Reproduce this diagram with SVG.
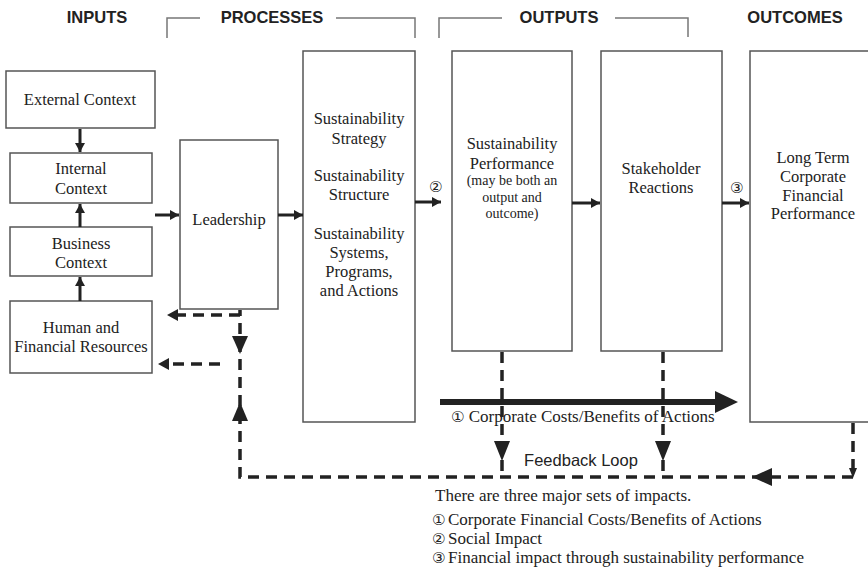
<svg xmlns="http://www.w3.org/2000/svg" width="868" height="568" viewBox="0 0 868 568">
<defs>
<style>
.hd{font-family:"Liberation Sans",Arial,sans-serif;font-weight:bold;font-size:16.5px;fill:#222;text-anchor:middle}
.bx{fill:#fff;stroke:#555;stroke-width:1.5}
.t{font-family:"Liberation Serif","Times New Roman",serif;font-size:16.5px;fill:#222;text-anchor:middle}
.ts{font-family:"Liberation Serif","Times New Roman",serif;font-size:14px;fill:#222;text-anchor:middle}
.lg{font-family:"Liberation Serif","Times New Roman",serif;font-size:17px;fill:#222}
.num{font-family:"DejaVu Sans",sans-serif;font-size:15px;fill:#222}
.br{fill:none;stroke:#777;stroke-width:1.5}
.sol{fill:none;stroke:#222;stroke-width:3}
.dsh{fill:none;stroke:#222;stroke-width:3.5;stroke-dasharray:11 7}
.head{fill:#222}
</style>
<marker id="ah" markerUnits="userSpaceOnUse" markerWidth="12" markerHeight="12" refX="9" refY="5" orient="auto">
<path d="M0,0 L9,5 L0,10 Z" fill="#222"/>
</marker>
</defs>

<g id="headers">
<text class="hd" x="97" y="23">INPUTS</text>
<text class="hd" x="272" y="23">PROCESSES</text>
<text class="hd" x="559" y="23">OUTPUTS</text>
<text class="hd" x="795" y="23">OUTCOMES</text>
<path class="br" d="M167,38 V18 H200 M336,18 H415 V38"/>
<path class="br" d="M439,38 V18 H502 M615,18 H688 V37"/>
</g>

<g id="external-context">
<rect class="bx" x="6" y="71" width="149" height="57"/>
<text class="t" x="80" y="105">External Context</text>
</g>
<g id="internal-context">
<rect class="bx" x="10" y="153" width="142" height="50"/>
<text class="t" x="81" y="174">Internal</text>
<text class="t" x="81" y="194">Context</text>
</g>
<g id="business-context">
<rect class="bx" x="10" y="227" width="142" height="49"/>
<text class="t" x="81" y="249">Business</text>
<text class="t" x="81" y="268">Context</text>
</g>
<g id="human-financial-resources">
<rect class="bx" x="10" y="301" width="142" height="72"/>
<text class="t" x="81" y="333">Human and</text>
<text class="t" x="81" y="352">Financial Resources</text>
</g>
<g id="leadership">
<rect class="bx" x="180" y="140" width="98" height="169"/>
<text class="t" x="229" y="225">Leadership</text>
</g>
<g id="sustainability-strategy">
<rect class="bx" x="303" y="51" width="112" height="371"/>
<text class="t" x="359" y="124">Sustainability</text>
<text class="t" x="359" y="144">Strategy</text>
<text class="t" x="359" y="181">Sustainability</text>
<text class="t" x="359" y="200">Structure</text>
<text class="t" x="359" y="239">Sustainability</text>
<text class="t" x="359" y="258">Systems,</text>
<text class="t" x="359" y="277">Programs,</text>
<text class="t" x="359" y="296">and Actions</text>
</g>
<g id="sustainability-performance">
<rect class="bx" x="452" y="51" width="120" height="300"/>
<text class="t" x="512" y="149">Sustainability</text>
<text class="t" x="512" y="169">Performance</text>
<text class="ts" x="512" y="185">(may be both an</text>
<text class="ts" x="512" y="202">output and</text>
<text class="ts" x="512" y="218">outcome)</text>
</g>
<g id="stakeholder-reactions">
<rect class="bx" x="601" y="51" width="121" height="300"/>
<text class="t" x="661" y="174">Stakeholder</text>
<text class="t" x="661" y="193">Reactions</text>
</g>
<g id="long-term-performance">
<rect class="bx" x="750" y="51" width="130" height="371"/>
<text class="t" x="813" y="163">Long Term</text>
<text class="t" x="813" y="182">Corporate</text>
<text class="t" x="813" y="201">Financial</text>
<text class="t" x="813" y="219">Performance</text>
</g>

<g id="connectors">
<line class="sol" x1="80" y1="129" x2="80" y2="152" marker-end="url(#ah)"/>
<line class="sol" x1="80" y1="227" x2="80" y2="204" marker-end="url(#ah)"/>
<line class="sol" x1="80" y1="301" x2="80" y2="277" marker-end="url(#ah)"/>
<line class="sol" x1="155" y1="215" x2="179" y2="215" marker-end="url(#ah)"/>
<line class="sol" x1="278" y1="215" x2="303" y2="215" marker-end="url(#ah)"/>
<line class="sol" x1="415" y1="202" x2="441" y2="202" marker-end="url(#ah)"/>
<line class="sol" x1="572" y1="203" x2="600" y2="203" marker-end="url(#ah)"/>
<line class="sol" x1="722" y1="203" x2="749" y2="203" marker-end="url(#ah)"/>
<text class="num" x="429" y="192" font-style="italic">②</text>
<text class="num" x="730" y="193">③</text>

<line x1="440" y1="402" x2="718" y2="402" stroke="#222" stroke-width="6"/>
<polygon class="head" points="715,391 738,402 715,413"/>
<text class="lg" x="451" y="422" font-size="16.3"><tspan class="num" font-size="13">①</tspan> Corporate Costs/Benefits of Actions</text>

<path class="dsh" d="M502,352 V477"/>
<path class="dsh" d="M663,352 V477"/>
<path class="dsh" d="M853,423 V477 H240 V310"/>
<polygon class="head" points="494,441 510,441 502,461"/>
<polygon class="head" points="655,441 671,441 663,461"/>
<polygon class="head" points="849,468 857,468 853,478"/>
<polygon class="head" points="752,477 772,468 772,486"/>
<polygon class="head" points="232,336 248,336 240,354"/>
<polygon class="head" points="232,421 248,421 240,402"/>
<path class="dsh" d="M240,315 H176"/>
<polygon class="head" points="167,315 178,309 178,321"/>
<path class="dsh" d="M220,364 H168"/>
<polygon class="head" points="158,364 169,358 169,370"/>
<text x="581" y="466" font-family="'Liberation Sans',Arial,sans-serif" font-size="16.5" fill="#222" text-anchor="middle">Feedback Loop</text>
</g>

<g id="legend">
<text class="lg" x="435" y="501">There are three major sets of impacts.</text>
<text class="num" x="432" y="525">①</text>
<text class="lg" x="448" y="525">Corporate Financial Costs/Benefits of Actions</text>
<text class="num" x="432" y="544">②</text>
<text class="lg" x="448" y="544">Social Impact</text>
<text class="num" x="432" y="563">③</text>
<text class="lg" x="448" y="563">Financial impact through sustainability performance</text>
</g>
</svg>
